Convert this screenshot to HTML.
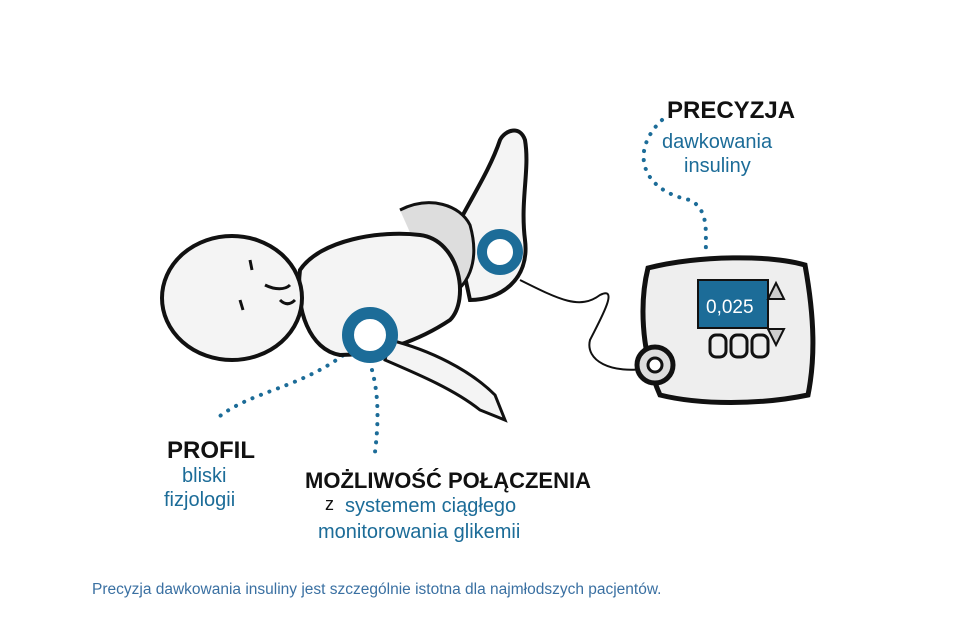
<!DOCTYPE html>
<html><head><meta charset="utf-8"><style>
html,body{margin:0;padding:0;background:#fff;width:978px;height:635px;overflow:hidden}
svg{display:block}
.h{font-family:"Liberation Sans",sans-serif;font-weight:bold;fill:#111}
.b{font-family:"Liberation Sans",sans-serif;fill:#1c6c98}
</style></head><body>
<svg width="978" height="635" viewBox="0 0 978 635" xmlns="http://www.w3.org/2000/svg">
<g fill="none" stroke="#1c6c98" stroke-width="4" stroke-linecap="round" stroke-dasharray="0.1 9">
<path d="M350 350 C300 390 250 390 215 420"/>
<path d="M372 370 C380 400 378 430 374 460"/>
<path d="M662 120 C630 150 640 190 690 200 C710 210 705 235 706 250"/>
</g>
<path d="M520 280 C560 300 580 310 600 295 C620 285 600 320 590 340 C585 360 610 375 650 368" fill="none" stroke="#111" stroke-width="2"/>
<path d="M455 230 C470 200 490 170 500 140 C505 130 520 125 525 140 C530 170 520 200 525 240 C530 280 500 300 470 300 Z" fill="#f4f4f4" stroke="#111" stroke-width="4"/>
<path d="M400 210 C430 195 460 205 470 225 C480 260 470 290 440 300" fill="#ddd" stroke="#111" stroke-width="3"/>
<path d="M300 270 C320 240 380 230 420 235 C460 240 470 300 450 320 C420 340 380 355 340 355 C310 350 295 310 300 270 Z" fill="#f4f4f4" stroke="#111" stroke-width="4"/>
<path d="M390 340 C430 350 470 370 495 395 L505 420 L480 410 C455 390 420 375 385 360 Z" fill="#f4f4f4" stroke="#111" stroke-width="3"/>
<ellipse cx="232" cy="298" rx="70" ry="62" fill="#f4f4f4" stroke="#111" stroke-width="4"/>
<path d="M250 260 l2 10 M240 300 l3 10 M265 285 c10 5 20 5 25 0 M280 300 c5 5 10 5 15 0" stroke="#111" stroke-width="3" fill="none"/>
<circle cx="370" cy="335" r="22" fill="#fff" stroke="#1c6c98" stroke-width="12"/>
<circle cx="500" cy="252" r="18" fill="#fff" stroke="#1c6c98" stroke-width="10"/>
<path d="M648 268 C700 255 770 255 805 265 C815 320 815 360 808 395 C760 405 700 405 660 395 C640 350 640 300 648 268 Z" fill="#eee" stroke="#111" stroke-width="5"/>
<rect x="698" y="280" width="70" height="48" fill="#1c6c98" stroke="#111" stroke-width="2"/>
<text x="706" y="313" font-family="Liberation Sans,sans-serif" font-size="19" fill="#fff">0,025</text>
<path d="M776 283 l8 16 h-16 Z M776 345 l8 -16 h-16 Z" fill="#ccc" stroke="#111" stroke-width="2"/>
<rect x="710" y="335" width="16" height="22" rx="6" fill="#eee" stroke="#111" stroke-width="3"/>
<rect x="731" y="335" width="16" height="22" rx="6" fill="#eee" stroke="#111" stroke-width="3"/>
<rect x="752" y="335" width="16" height="22" rx="6" fill="#eee" stroke="#111" stroke-width="3"/>
<circle cx="655" cy="365" r="18" fill="#ddd" stroke="#111" stroke-width="5"/>
<circle cx="655" cy="365" r="7" fill="#fff" stroke="#111" stroke-width="3"/>
<text class="h" x="667" y="118" font-size="24">PRECYZJA</text>
<text class="b" x="662" y="148" font-size="20">dawkowania</text>
<text class="b" x="684" y="172" font-size="20">insuliny</text>
<text class="h" x="167" y="458" font-size="24">PROFIL</text>
<text class="b" x="182" y="482" font-size="20">bliski</text>
<text class="b" x="164" y="506" font-size="20">fizjologii</text>
<text class="h" x="305" y="488" font-size="22">MOŻLIWOŚĆ POŁĄCZENIA</text>
<text x="325" y="510" font-size="18" font-family="Liberation Sans,sans-serif" fill="#111">z</text>
<text class="b" x="345" y="512" font-size="20">systemem ciągłego</text>
<text class="b" x="318" y="538" font-size="20">monitorowania glikemii</text>
<text x="92" y="594" font-size="15.5" font-family="Liberation Sans,sans-serif" fill="#3a70a2">Precyzja dawkowania insuliny jest szczególnie istotna dla najmłodszych pacjentów.</text>
</svg>
</body></html>
